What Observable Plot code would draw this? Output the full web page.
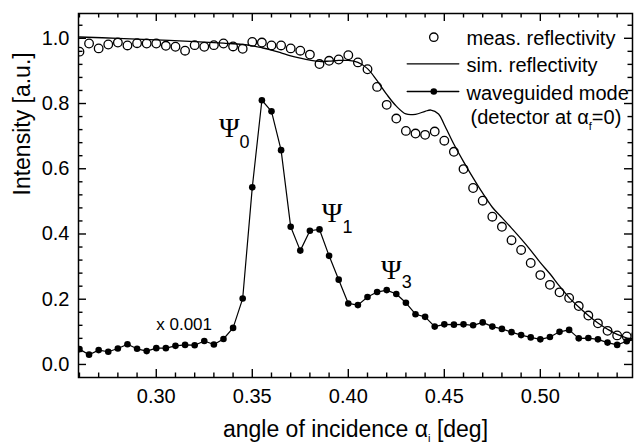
<!DOCTYPE html>
<html><head><meta charset="utf-8">
<script src="https://cdn.jsdelivr.net/npm/d3@7"></script>
<script src="https://cdn.jsdelivr.net/npm/@observablehq/plot@0.6"></script>
<style>body{margin:0;background:#fff} svg{display:block}</style>
</head><body><div id="chart"></div>
<script>
// ---- data ----
const angles = [0.26,0.265,0.27,0.275,0.28,0.285,0.29,0.295,0.30,0.305,0.31,0.315,0.32,0.325,0.33,0.335,0.34,0.345,0.35,0.355,0.36,0.365,0.37,0.375,0.38,0.385,0.39,0.395,0.40,0.405,0.41,0.415,0.42,0.425,0.43,0.435,0.44,0.445,0.45,0.455,0.46,0.465,0.47,0.475,0.48,0.485,0.49,0.495,0.50,0.505,0.51,0.515,0.52,0.525,0.53,0.535,0.54,0.545,0.55];
const measRefl = [0.959,0.984,0.969,0.981,0.987,0.978,0.985,0.984,0.984,0.977,0.974,0.962,0.979,0.974,0.979,0.984,0.975,0.968,0.989,0.987,0.978,0.978,0.969,0.962,0.950,0.921,0.931,0.935,0.948,0.926,0.905,0.851,0.796,0.754,0.716,0.708,0.704,0.714,0.686,0.652,0.599,0.541,0.502,0.453,0.422,0.381,0.351,0.311,0.274,0.244,0.221,0.204,0.179,0.150,0.126,0.103,0.089,0.086,0.092];
const waveguided = [0.047,0.030,0.044,0.039,0.049,0.062,0.048,0.041,0.050,0.050,0.057,0.060,0.059,0.072,0.061,0.078,0.112,0.202,0.543,0.810,0.776,0.657,0.422,0.349,0.410,0.414,0.333,0.260,0.187,0.182,0.207,0.222,0.228,0.216,0.189,0.154,0.146,0.116,0.123,0.122,0.123,0.120,0.129,0.116,0.109,0.099,0.090,0.083,0.077,0.084,0.100,0.106,0.080,0.081,0.077,0.067,0.060,0.071,0.078];
const simAngles = [0.26,0.28,0.30,0.32,0.335,0.345,0.35,0.355,0.36,0.365,0.37,0.375,0.38,0.385,0.39,0.395,0.40,0.405,0.41,0.415,0.42,0.425,0.43,0.435,0.44,0.443,0.447,0.45,0.455,0.46,0.465,0.47,0.475,0.48,0.485,0.49,0.495,0.50,0.505,0.51,0.515,0.52,0.525,0.53,0.535,0.54,0.548];
const simRefl = [1.004,1.000,0.995,0.990,0.985,0.981,0.977,0.971,0.964,0.955,0.946,0.939,0.933,0.929,0.930,0.932,0.932,0.926,0.907,0.870,0.828,0.792,0.768,0.767,0.776,0.780,0.768,0.735,0.675,0.622,0.572,0.525,0.482,0.450,0.418,0.385,0.350,0.312,0.278,0.240,0.205,0.176,0.150,0.127,0.108,0.092,0.075];
const xTickLabels = [0.30,0.35,0.40,0.45,0.50];
const yTickLabels = [0.0,0.2,0.4,0.6,0.8,1.0];
const legendLabels = ["meas. reflectivity","sim. reflectivity","waveguided mode","(detector at α_f=0)"];
const psiMain = [{x:0.3381,y:0.725},{x:0.3916,y:0.463},{x:0.4224,y:0.290}];
const psiSub = [{x:0.3459,y:0.681,t:"0"},{x:0.3996,y:0.421,t:"1"},{x:0.4304,y:0.252,t:"3"}];
const scaleNote = [{x:0.3145,y:0.122,t:"x 0.001"}];
const xTitle = "angle of incidence α_i [deg]";
const yTitle = "Intensity [a.u.]";

// ---- layout ----
const W = 634, H = 444, mL = 78, mR = 2, mT = 13, mB = 67;
const iW = W - mL - mR, iH = H - mT - mB;
const xDomain = [0.2595, 0.548], yDomain = [-0.04, 1.076];
const xMinor = d3.range(26, 55).filter(i => i % 5 !== 0).map(i => i / 100);
const yMinor = d3.range(1, 27).filter(i => i % 5 !== 0).map(i => i * 0.04);

const meas = angles.map((a, i) => ({a, v: measRefl[i]}));
const wg = angles.map((a, i) => ({a, v: waveguided[i]}));
const sim = simAngles.map((a, i) => ({a, v: simRefl[i]}));

const lineShape = {draw(ctx, l) { ctx.moveTo(0, 0); ctx.lineTo(0, -l); }};
const sans = "Liberation Sans, Arial, Helvetica, sans-serif";
const TL = "top-left";
const legText = (i, dx, dy) => Plot.text([legendLabels[i]], {frameAnchor: TL, dx, dy, text: d => d, fontSize: 20, textAnchor: "start", lineAnchor: "middle"});
const legLine = (dy) => Plot.vector([0], {frameAnchor: TL, dx: 328.7, dy, rotate: 90, anchor: "start", length: 51.6, shape: lineShape, stroke: "black", strokeWidth: 1.3});

const plot = Plot.plot({
  width: W, height: H,
  marginLeft: mL, marginRight: mR, marginTop: mT, marginBottom: mB,
  x: {domain: xDomain},
  y: {domain: yDomain},
  style: {fontFamily: sans, color: "black", background: "white"},
  marks: [
    // ticks (inward, all four sides)
    Plot.ruleX(xTickLabels, {insetTop: iH - 8, strokeWidth: 1.4}),
    Plot.ruleX(xTickLabels, {insetBottom: iH - 8, strokeWidth: 1.4}),
    Plot.ruleX(xMinor, {insetTop: iH - 4.5, strokeWidth: 1.4}),
    Plot.ruleX(xMinor, {insetBottom: iH - 4.5, strokeWidth: 1.4}),
    Plot.ruleY(yTickLabels, {insetRight: iW - 8, strokeWidth: 1.4}),
    Plot.ruleY(yTickLabels, {insetLeft: iW - 8, strokeWidth: 1.4}),
    Plot.ruleY(yMinor, {insetRight: iW - 4.5, strokeWidth: 1.4}),
    Plot.ruleY(yMinor, {insetLeft: iW - 4.5, strokeWidth: 1.4}),
    Plot.axisX(xTickLabels, {tickSize: 0, tickPadding: 11, tickFormat: d3.format(".2f"), fontSize: 20, label: null}),
    Plot.axisY(yTickLabels, {tickSize: 0, tickPadding: 9, tickFormat: d3.format(".1f"), fontSize: 20, label: null}),
    // data
    Plot.line(sim, {x: "a", y: "v", curve: "catmull-rom", stroke: "black", strokeWidth: 1.3, clip: true}),
    Plot.dot(meas, {x: "a", y: "v", r: 4.3, stroke: "black", strokeWidth: 1.3, fill: "none", clip: true}),
    Plot.line(wg, {x: "a", y: "v", stroke: "black", strokeWidth: 1.2, clip: true}),
    Plot.dot(wg, {x: "a", y: "v", r: 3.3, fill: "black", clip: true}),
    Plot.frame({stroke: "black", strokeWidth: 1.5}),
    // annotations
    Plot.text(psiMain, {x: "x", y: "y", text: () => "Ψ", fontFamily: "Liberation Serif, Times New Roman, serif", fontSize: 28}),
    Plot.text(psiSub, {x: "x", y: "y", text: "t", fontSize: 18}),
    Plot.text(scaleNote, {x: "x", y: "y", text: "t", fontSize: 17}),
    // legend
    Plot.dot([0], {frameAnchor: TL, dx: 355.3, dy: 23.7, r: 4.2, stroke: "black", strokeWidth: 1.3, fill: "none"}),
    legLine(50.3),
    legLine(78),
    Plot.dot([0], {frameAnchor: TL, dx: 355.3, dy: 78, r: 3.3, fill: "black"}),
    legText(0, 388, 25.5),
    legText(1, 388, 52.3),
    legText(2, 388, 80),
    legText(3, 392, 104.5),
    // titles
    Plot.text([xTitle], {frameAnchor: "bottom", dy: 52, text: d => d, fontSize: 23, lineAnchor: "middle"}),
    Plot.text([yTitle], {frameAnchor: "left", dx: -56, rotate: -90, text: d => d, fontSize: 23, lineAnchor: "middle"})
  ]
});

// subscripts: "a_b rest" -> a, subscript b, rest
const NS = "http://www.w3.org/2000/svg";
plot.querySelectorAll("text").forEach(t => {
  if (t.querySelector("tspan")) return;
  const m = t.textContent.match(/^(.*?)_(\w)(.*)$/);
  if (!m) return;
  const fs = parseFloat(t.getAttribute("font-size") || getComputedStyle(t).fontSize) || 20;
  const shift = fs * 0.28;
  t.textContent = "";
  const a = document.createElementNS(NS, "tspan"); a.textContent = m[1];
  const b = document.createElementNS(NS, "tspan"); b.textContent = m[2];
  b.setAttribute("font-size", (fs * 0.55).toFixed(1)); b.setAttribute("dy", shift.toFixed(1));
  const c = document.createElementNS(NS, "tspan"); c.textContent = m[3]; c.setAttribute("dy", (-shift).toFixed(1));
  t.append(a, b, c);
});
document.getElementById("chart").append(plot);
</script>
</body></html>
